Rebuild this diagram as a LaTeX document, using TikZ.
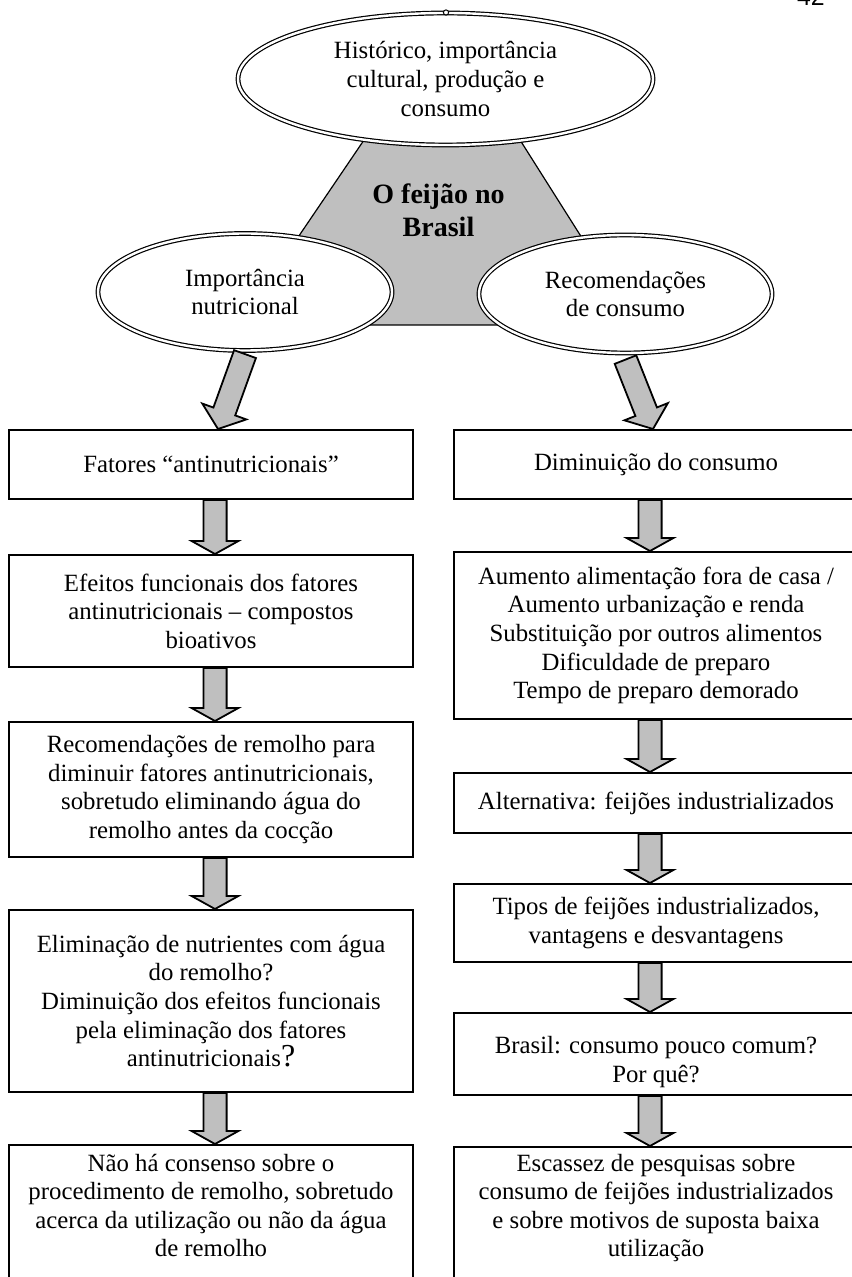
\documentclass[tikz,border=0pt]{standalone}
\usepackage{fontspec}
\setmainfont{Liberation Serif}
\setsansfont{Liberation Sans}
\usepackage{tikz}
\usetikzlibrary{shapes.geometric, positioning, calc}

\newcommand\txtsz{\fontsize{12.4}{14.3}\selectfont}
\newcommand\coresz{\fontsize{14}{16.5}\selectfont\bfseries}
% block arrow from #2 to #3, head length #1
\newcommand\blkarrow[3][6.5pt]{%
  \path #2 coordinate (ba-s) #3 coordinate (ba-e);
  \coordinate (ba-c) at ($(ba-e)!#1!(ba-s)$);
  \filldraw[blk] ($(ba-s)!5.8pt!90:(ba-e)$) -- ($(ba-c)!5.8pt!-90:(ba-s)$)
    -- ($(ba-c)!11.7pt!-90:(ba-s)$) -- (ba-e) -- ($(ba-c)!11.7pt!90:(ba-s)$)
    -- ($(ba-c)!5.8pt!90:(ba-s)$) -- ($(ba-s)!5.8pt!-90:(ba-e)$) -- cycle;}

\begin{document}
\begin{tikzpicture}[
  x=0.5pt, y=-0.5pt,
  node distance=25.5pt,
  box/.style={draw, line width=1pt, minimum width=202pt, align=center, font=\txtsz, inner sep=2pt},
  oval/.style={ellipse, draw, double, line width=0.6pt, double distance=1.2pt, fill=white, align=center, font=\txtsz, inner sep=0pt},
  blk/.style={draw, fill=gray!50, line width=0.9pt}
]
\useasboundingbox (0,0) rectangle (851,1277);

\node[font=\sffamily\txtsz, anchor=base east, inner sep=0pt] (pg) at (825,6) {42};

% centre
\filldraw[fill=gray!50, line width=0.6pt] (370.8,130) -- (513.7,130) -- (637,325) -- (238.5,325) -- cycle;
\node[font=\coresz, align=center] (core) at (438.5,210) {O feijão no\\Brasil};

\node[oval, minimum width=207.5pt, minimum height=66pt] (hist) at (445.5,79) {Histórico, importância\\cultural, produção e\\consumo};
\draw[line width=0.5pt, fill=white] (446,12.5) circle (1.3pt);
\node[oval, minimum width=147pt, minimum height=58.5pt] (imp) at (245,292) {Importância\\nutricional};
\node[oval, minimum width=146.5pt, minimum height=59pt] (rec) at (625.5,294) {Recomendações\\de consumo};

% left column
\node[box, minimum height=34.5pt] (fat) at (211,464.5) {Fatores “antinutricionais”};
\node[box, minimum height=56pt, below=27pt of fat] (efe) {Efeitos funcionais dos fatores\\antinutricionais – compostos\\bioativos};
\node[box, minimum height=67.5pt, below=26.5pt of efe] (rem) {Recomendações de remolho para\\diminuir fatores antinutricionais,\\sobretudo eliminando água do\\remolho antes da cocção};
\node[box, minimum height=91pt, below=of rem] (eli) {Eliminação de nutrientes com água\\do remolho?\\Diminuição dos efeitos funcionais\\pela eliminação dos fatores\\antinutricionais{\fontsize{16}{16}\selectfont?}};
\node[box, below=of eli] (cons) {\rule{0pt}{11pt}Não há consenso sobre o\\procedimento de remolho, sobretudo\\acerca da utilização ou não da água\\de remolho\rule[-30pt]{0pt}{0pt}};

% right column
\node[box, minimum height=34.5pt] (dim) at (656,464.5) {Diminuição do consumo};
\node[box, minimum height=83.5pt, below=of dim] (aum) {Aumento alimentação fora de casa /\\Aumento urbanização e renda\\Substituição por outros alimentos\\Dificuldade de preparo\\Tempo de preparo demorado};
\node[box, minimum height=30pt, below=26pt of aum] (alt) {Alternativa: feijões industrializados};
\node[box, minimum height=39pt, below=24.5pt of alt] (tip) {Tipos de feijões industrializados,\\vantagens e desvantagens};
\node[box, minimum height=41pt, below=24.5pt of tip] (bra) {\rule{0pt}{16.5pt}Brasil: consumo pouco comum?\\Por quê?};
\node[box, below=25pt of bra] (esc) {\rule{0pt}{10pt}Escassez de pesquisas sobre\\consumo de feijões industrializados\\e sobre motivos de suposta baixa\\utilização\rule[-30pt]{0pt}{0pt}};

% arrows
\blkarrow[9.3pt]{([yshift=-1.5pt]imp.south)}{([xshift=3.5pt]fat.north)};
\blkarrow[9.3pt]{([yshift=-3pt]rec.south)}{([xshift=-1.5pt]dim.north)};
\blkarrow{([xshift=2pt]fat.south)}{([xshift=2pt]efe.north)};
\blkarrow{([xshift=2pt]efe.south)}{([xshift=2pt]rem.north)};
\blkarrow{([xshift=2pt]rem.south)}{([xshift=2pt]eli.north)};
\blkarrow{([xshift=2pt]eli.south)}{([xshift=2pt]cons.north)};
\blkarrow{([xshift=-3pt]dim.south)}{([xshift=-3pt]aum.north)};
\blkarrow{([xshift=-3pt]aum.south)}{([xshift=-3pt]alt.north)};
\blkarrow{([xshift=-3pt]alt.south)}{([xshift=-3pt]tip.north)};
\blkarrow{([xshift=-3pt]tip.south)}{([xshift=-3pt]bra.north)};
\blkarrow{([xshift=-3pt]bra.south)}{([xshift=-3pt]esc.north)};
\end{tikzpicture}
\end{document}
